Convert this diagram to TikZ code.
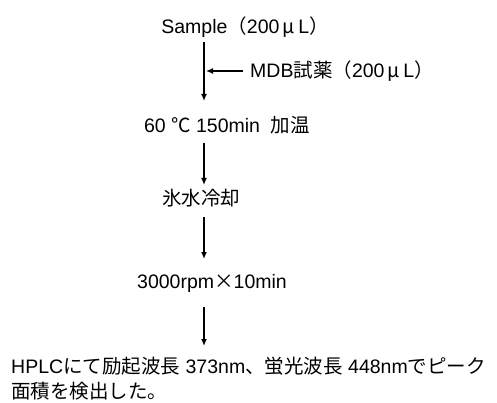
\documentclass[tikz,border=0pt]{standalone}
\usepackage{fontspec}
\setmainfont{Liberation Sans}
\newfontfamily\jp{Noto Sans CJK JP}
\usetikzlibrary{arrows.meta}
\begin{document}
\begin{tikzpicture}[x=1pt,y=-1pt,
  lbl/.style={inner sep=0pt,font=\fontsize{19.5}{25}\selectfont},
  arr/.style={line width=1.4pt,-{Latex[length=7pt,width=6pt]}}]
\useasboundingbox (0,0) rectangle (497,403);
\node[lbl] (sample) at (245,27) {Sample{\jp（}200\,{\jp μ}\,L{\jp ）}};
\node[lbl,anchor=west] (mdb) at (250,71) {MDB{\jp 試薬（}200\,{\jp μ}\,L{\jp ）}};
\node[lbl] (heat) at (227,125) {60 {\jp ℃} 150min\ \ {\jp 加温}};
\node[lbl] (ice) at (201,198) {\jp 氷水冷却};
\node[lbl] (cent) at (212,283) {3000rpm{\jp ×}10min};
\node[lbl,anchor=west] (hplc1) at (11,366) {HPLC{\jp にて励起波長} 373nm{\jp 、蛍光波長} 448nm{\jp でピーク}};
\node[lbl,anchor=west] (hplc2) at (11,391) {\jp 面積を検出した。};
\coordinate (a1s) at (204,42);
\coordinate (a1e) at (204,101);
\coordinate (mid) at (206,71);
\coordinate (a2s) at (204,143);
\coordinate (a2e) at (204,185);
\coordinate (a3s) at (204,217);
\coordinate (a3e) at (204,259);
\coordinate (a4s) at (204,307);
\coordinate (a4e) at (204,346);
\draw[arr] (a1s) -- (a1e);
\draw[arr] (mdb.west) ++(-7,0) coordinate (ms) (ms) -- (mid);
\draw[arr] (a2s) -- (a2e);
\draw[arr] (a3s) -- (a3e);
\draw[arr] (a4s) -- (a4e);
\end{tikzpicture}
\end{document}
